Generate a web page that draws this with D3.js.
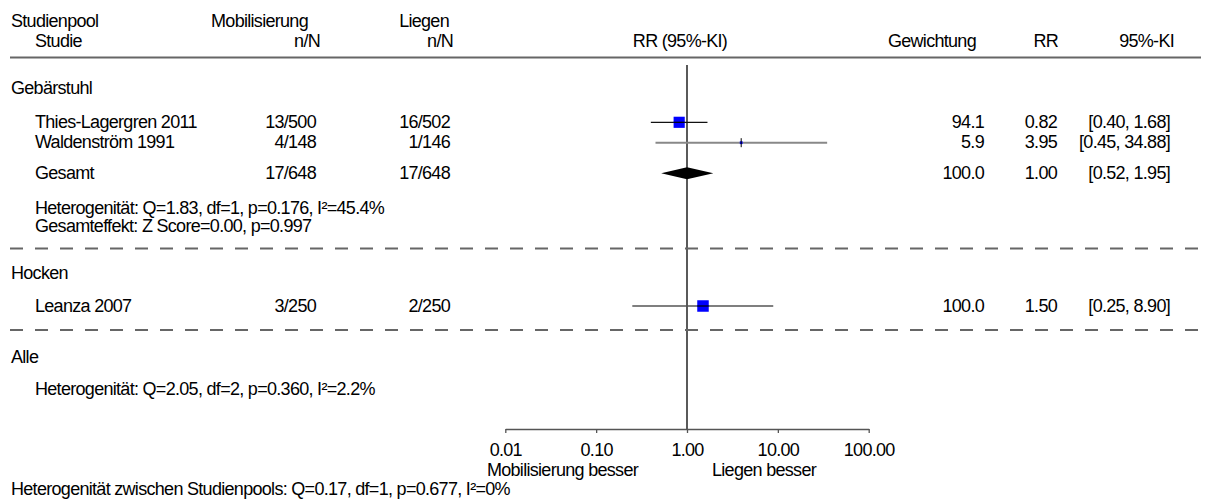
<!DOCTYPE html>
<html><head><meta charset="utf-8">
<script src="https://cdn.jsdelivr.net/npm/d3@7"></script>
<style>
html,body{margin:0;padding:0;background:#fff;}
svg text{fill:#000;}
</style></head><body>
<svg id="chart" width="1211" height="501"></svg>
<script>
// ---------- data ----------
const headerTop = ["Studienpool", "Mobilisierung", "Liegen"];
const headerSub = ["Studie", "n/N", "n/N", "RR (95%-KI)", "Gewichtung", "RR", "95%-KI"];
const groupNames = ["Gebärstuhl", "Hocken", "Alle"];
const studyNames = ["Thies-Lagergren 2011", "Waldenström 1991", "Leanza 2007"];
const studyGroup = [0, 0, 1];
const studyMob = ["13/500", "4/148", "3/250"];
const studyLieg = ["16/502", "1/146", "2/250"];
const studyWeight = [94.1, 5.9, 100.0];
const studyRR = [0.82, 3.95, 1.50];
const studyLow = [0.40, 0.45, 0.25];
const studyHigh = [1.68, 34.88, 8.90];
const pooledName = "Gesamt";
const pooledMob = "17/648";
const pooledLieg = "17/648";
const pooledWeight = 100.0;
const pooledRR = 1.00;
const pooledLow = 0.52;
const pooledHigh = 1.95;
const statsGroup1 = ["Heterogenität: Q=1.83, df=1, p=0.176, I²=45.4%", "Gesamteffekt: Z Score=0.00, p=0.997"];
const statsAll = ["Heterogenität: Q=2.05, df=2, p=0.360, I²=2.2%"];
const footer = "Heterogenität zwischen Studienpools: Q=0.17, df=1, p=0.677, I²=0%";
const axisTicks = [0.01, 0.1, 1, 10, 100];
const axisSides = ["Mobilisierung besser", "Liegen besser"];

// ---------- font choice (narrow if installed) ----------
const cv = document.createElement("canvas").getContext("2d");
cv.font = '20px "Liberation Sans Narrow", monospace';
const wNarrow = cv.measureText("Studienpool").width;
cv.font = '20px monospace';
const wMono = cv.measureText("Studienpool").width;
const hasNarrow = Math.abs(wNarrow - wMono) > 1;
const FONT = hasNarrow ? '"Liberation Sans Narrow"' : '"Liberation Sans", Arial, sans-serif';
const FSIZE = hasNarrow ? 19.6 : 18;
const LSP = hasNarrow ? 0 : -0.7;

// ---------- layout ----------
const svg = d3.select("#chart")
  .style("font-family", FONT).style("font-size", FSIZE + "px").style("letter-spacing", LSP + "px");
const x = d3.scaleLog().domain([0.01, 100]).range([505.3, 868.7]);
const fmt2 = d3.format(".2f"), fmt1 = d3.format(".1f");
const col = {grp: 11, study: 35, mobEnd: 316, liegEnd: 450, wEnd: 984, rrEnd: 1057, ciEnd: 1170};
const axisY = 429;

function txt(xp, yp, s, anchor) {
  return svg.append("text").attr("x", xp).attr("y", yp).attr("text-anchor", anchor || "start").text(s);
}
function ciText(lo, hi) { return "[" + fmt2(lo) + ", " + fmt2(hi) + "]"; }

// header
txt(col.grp, 27, headerTop[0]);
txt(308, 27, headerTop[1], "end");
txt(449, 27, headerTop[2], "end");
txt(col.study, 47, headerSub[0]);
txt(320, 47, headerSub[1], "end");
txt(453, 47, headerSub[2], "end");
txt(680, 47, headerSub[3], "middle");
txt(976, 47, headerSub[4], "end");
txt(1058, 47, headerSub[5], "end");
txt(1174, 47, headerSub[6], "end");
svg.append("line").attr("x1", 10).attr("x2", 1201).attr("y1", 57.5).attr("y2", 57.5)
  .attr("stroke", "#666").attr("stroke-width", 2);

// vertical reference line (RR = 1)
svg.append("line").attr("x1", x(1)).attr("x2", x(1)).attr("y1", 65).attr("y2", axisY)
  .attr("stroke", "#000").attr("stroke-width", 1.3);

// dashed separators
[248.5, 330].forEach(yy => {
  svg.append("line").attr("x1", 10).attr("x2", 1201).attr("y1", yy).attr("y2", yy)
    .attr("stroke", "#666").attr("stroke-width", 2).attr("stroke-dasharray", "13,12");
});

// group labels
const groupY = [94, 279, 363];
groupNames.forEach((g, i) => txt(col.grp, groupY[i], g));

// studies
const studyY = [128, 148, 312];
const studyCenter = [122.3, 142.7, 306];
const lineStyle = [
  {stroke: "#111", w: 1.3},
  {stroke: "#888", w: 2},
  {stroke: "#555", w: 1.6}
];
studyNames.forEach((s, i) => {
  const yb = studyY[i], yc = studyCenter[i];
  txt(col.study, yb, s);
  txt(col.mobEnd, yb, studyMob[i], "end");
  txt(col.liegEnd, yb, studyLieg[i], "end");
  txt(col.wEnd, yb, fmt1(studyWeight[i]), "end");
  txt(col.rrEnd, yb, fmt2(studyRR[i]), "end");
  txt(col.ciEnd, yb, ciText(studyLow[i], studyHigh[i]), "end");
  svg.append("line").attr("x1", x(studyLow[i])).attr("x2", x(studyHigh[i]))
    .attr("y1", yc).attr("y2", yc).attr("stroke", lineStyle[i].stroke).attr("stroke-width", lineStyle[i].w);
  const sz = 11.5 * Math.sqrt(studyWeight[i] / 100);
  svg.append("rect").attr("x", x(studyRR[i]) - sz / 2).attr("y", yc - sz / 2)
    .attr("width", sz).attr("height", sz).attr("fill", "#0000ff");
  if (sz > 6) {
    svg.append("line").attr("x1", x(studyRR[i]) - sz / 2).attr("x2", x(studyRR[i]) + sz / 2)
      .attr("y1", yc).attr("y2", yc).attr("stroke", "#000").attr("stroke-width", 1.2);
  } else {
    svg.append("line").attr("x1", x(studyRR[i])).attr("x2", x(studyRR[i]))
      .attr("y1", yc - 4.5).attr("y2", yc + 4.5).attr("stroke", "#000").attr("stroke-width", 1);
  }
});

// pooled (Gebärstuhl)
const pY = 179, pC = 173.3;
txt(col.study, pY, pooledName);
txt(col.mobEnd, pY, pooledMob, "end");
txt(col.liegEnd, pY, pooledLieg, "end");
txt(col.wEnd, pY, fmt1(pooledWeight), "end");
txt(col.rrEnd, pY, fmt2(pooledRR), "end");
txt(col.ciEnd, pY, ciText(pooledLow, pooledHigh), "end");
svg.append("path")
  .attr("d", d3.line()([[x(pooledLow), pC], [x(pooledRR), pC - 6], [x(pooledHigh), pC], [x(pooledRR), pC + 6]]) + "Z")
  .attr("fill", "#000");

// stats text
txt(col.study, 214, statsGroup1[0]);
txt(col.study, 232, statsGroup1[1]);
txt(col.study, 395, statsAll[0]);

// axis
const axis = d3.axisBottom(x).tickValues(axisTicks).tickFormat(fmt2).tickSize(4).tickSizeOuter(0).tickPadding(10);
const ag = svg.append("g").attr("transform", `translate(0,${axisY})`).call(axis);
ag.attr("font-family", null).attr("font-size", null);
ag.select(".domain").attr("stroke", "#555").attr("stroke-width", 1.3);
ag.selectAll(".tick line").attr("stroke", "#555").attr("stroke-width", 1.3);
ag.selectAll(".tick text").attr("fill", "#000");

txt(x(1) - 49, 476, axisSides[0], "end");
txt(x(1) + 25, 476, axisSides[1], "start");

// footer
txt(col.grp, 495, footer);
</script>
</body></html>
